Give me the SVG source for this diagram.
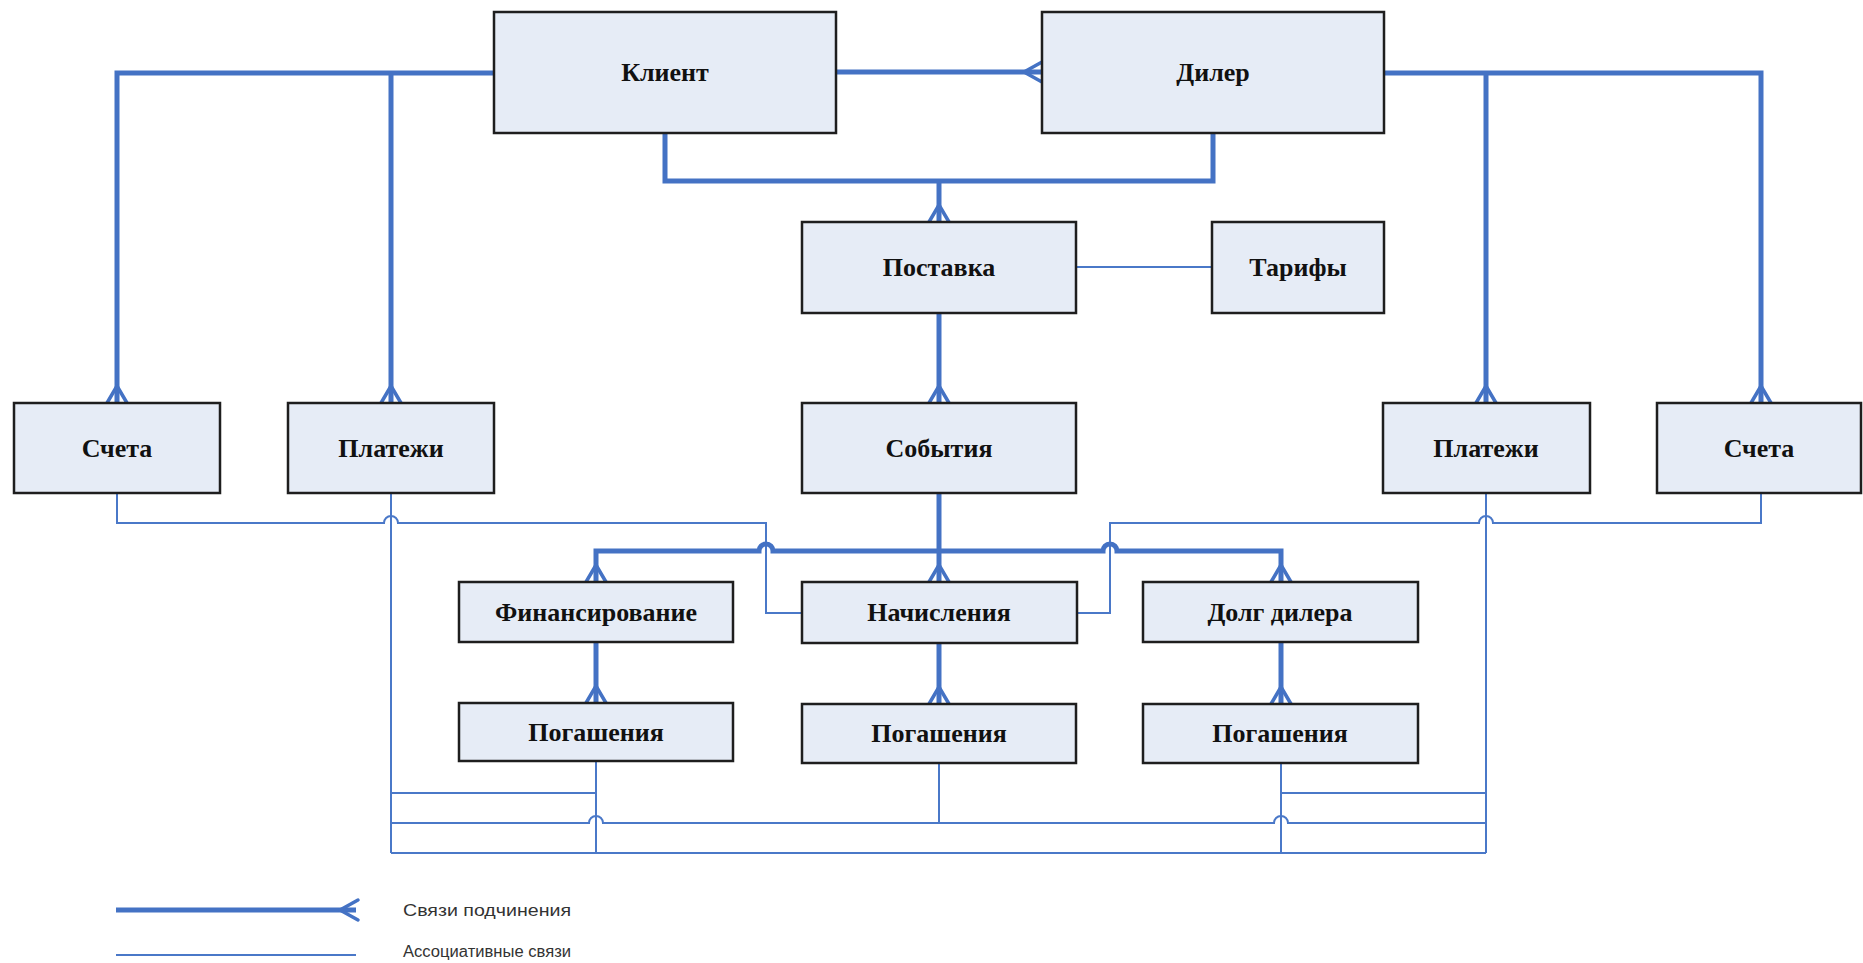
<svg xmlns="http://www.w3.org/2000/svg" width="1863" height="963" viewBox="0 0 1863 963">
<style>
.box{fill:#E6ECF6;stroke:#1e1e1e;stroke-width:2.5}
.lbl{font-family:"Liberation Serif","Times New Roman",serif;font-weight:bold;font-size:26px;fill:#111;text-anchor:middle;dominant-baseline:central}
.thick{fill:none;stroke:#4472C4;stroke-width:5;stroke-linejoin:miter}
.crow{fill:none;stroke:#4472C4;stroke-width:3.5;stroke-linecap:round;stroke-linejoin:round}
.thin{fill:none;stroke:#4A78C8;stroke-width:2}
.leg{font-family:"Liberation Sans",Arial,sans-serif;font-size:16px;fill:#333}
</style>
<rect width="1863" height="963" fill="#ffffff"/>
<g id="connectors">
  <!-- associative (thin) -->
  <path class="thin" d="M1076,267 H1212"/>
  <path class="thin" d="M117,493 V523 H384 a7,7 0 0 1 14,0 H766 V613 H802"/>
  <path class="thin" d="M1761,493 V523 H1493 a7,7 0 0 0 -14,0 H1110 V613 H1077"/>
  <path class="thin" d="M391,493 V853"/>
  <path class="thin" d="M1486,493 V853"/>
  <path class="thin" d="M391,793 H596"/>
  <path class="thin" d="M596,761 V853"/>
  <path class="thin" d="M1281,763 V853"/>
  <path class="thin" d="M1281,793 H1486"/>
  <path class="thin" d="M391,823 H589 a7,7 0 0 1 14,0 H1274 a7,7 0 0 1 14,0 H1486"/>
  <path class="thin" d="M939,763 V823"/>
  <path class="thin" d="M391,853 H1486"/>
  <!-- subordination (thick) -->
  <path class="thick" d="M494,73 H117 V403"/>
  <path class="thick" d="M391,73 V403"/>
  <path class="thick" d="M836,72 H1042"/>
  <path class="thick" d="M1384,73 H1761 V403"/>
  <path class="thick" d="M1486,73 V403"/>
  <path class="thick" d="M665,132 V181 H1213 V132"/>
  <path class="thick" d="M939,181 V222"/>
  <path class="thick" d="M939,313 V403"/>
  <path class="thick" d="M939,492 V582"/>
  <path class="thick" d="M596,582 V551 H759 a7,7 0 0 1 14,0 H1103 a7,7 0 0 1 14,0 H1281 V582"/>
  <path class="thick" d="M596,642 V703"/>
  <path class="thick" d="M939,643 V704"/>
  <path class="thick" d="M1281,642 V704"/>
  <!-- crow's feet -->
  <path class="crow" d="M1042,62 L1024,72 L1042,82 M1024,72 H1042"/>
  <path class="crow" d="M107,403 L117,386 L127,403"/>
  <path class="crow" d="M381,403 L391,386 L401,403"/>
  <path class="crow" d="M1476,403 L1486,386 L1496,403"/>
  <path class="crow" d="M1751,403 L1761,386 L1771,403"/>
  <path class="crow" d="M929,222 L939,205 L949,222"/>
  <path class="crow" d="M929,403 L939,386 L949,403"/>
  <path class="crow" d="M586,582 L596,565 L606,582"/>
  <path class="crow" d="M929,582 L939,565 L949,582"/>
  <path class="crow" d="M1271,582 L1281,565 L1291,582"/>
  <path class="crow" d="M586,703 L596,686 L606,703"/>
  <path class="crow" d="M929,704 L939,687 L949,704"/>
  <path class="crow" d="M1271,704 L1281,687 L1291,704"/>
</g>
<g id="n-klient"><rect class="box" x="494" y="12" width="342" height="121"/><text class="lbl" x="665" y="72">Клиент</text></g>
<g id="n-diler"><rect class="box" x="1042" y="12" width="342" height="121"/><text class="lbl" x="1213" y="72">Дилер</text></g>
<g id="n-postavka"><rect class="box" x="802" y="222" width="274" height="91"/><text class="lbl" x="939" y="267">Поставка</text></g>
<g id="n-tarify"><rect class="box" x="1212" y="222" width="172" height="91"/><text class="lbl" x="1298" y="267">Тарифы</text></g>
<g id="n-scheta-l"><rect class="box" x="14" y="403" width="206" height="90"/><text class="lbl" x="117" y="448">Счета</text></g>
<g id="n-platezhi-l"><rect class="box" x="288" y="403" width="206" height="90"/><text class="lbl" x="391" y="448">Платежи</text></g>
<g id="n-sobytiya"><rect class="box" x="802" y="403" width="274" height="90"/><text class="lbl" x="939" y="448">События</text></g>
<g id="n-platezhi-r"><rect class="box" x="1383" y="403" width="207" height="90"/><text class="lbl" x="1486" y="448">Платежи</text></g>
<g id="n-scheta-r"><rect class="box" x="1657" y="403" width="204" height="90"/><text class="lbl" x="1759" y="448">Счета</text></g>
<g id="n-finans"><rect class="box" x="459" y="582" width="274" height="60"/><text class="lbl" x="596" y="612">Финансирование</text></g>
<g id="n-nachisl"><rect class="box" x="802" y="582" width="275" height="61"/><text class="lbl" x="939" y="612">Начисления</text></g>
<g id="n-dolg"><rect class="box" x="1143" y="582" width="275" height="60"/><text class="lbl" x="1280" y="612">Долг дилера</text></g>
<g id="n-pog1"><rect class="box" x="459" y="703" width="274" height="58"/><text class="lbl" x="596" y="732">Погашения</text></g>
<g id="n-pog2"><rect class="box" x="802" y="704" width="274" height="59"/><text class="lbl" x="939" y="733">Погашения</text></g>
<g id="n-pog3"><rect class="box" x="1143" y="704" width="275" height="59"/><text class="lbl" x="1280" y="733">Погашения</text></g>
<g id="legend">
  <path class="thick" d="M116,910 H356"/>
  <path class="crow" d="M358,900 L340,910 L358,920"/>
  <path class="thin" d="M116,955 H356"/>
  <text class="leg" x="403" y="916" textLength="168" lengthAdjust="spacingAndGlyphs">Связи подчинения</text>
  <text class="leg" x="403" y="957" textLength="168" lengthAdjust="spacingAndGlyphs">Ассоциативные связи</text>
</g>
</svg>
